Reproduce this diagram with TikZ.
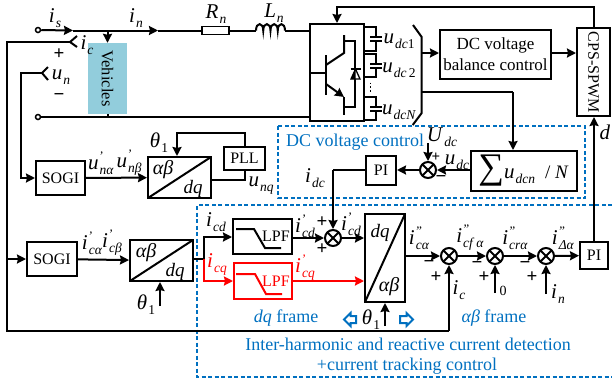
\documentclass[tikz,border=0pt]{standalone}
\usepackage{fontspec}
\setmainfont{Liberation Serif}
\usetikzlibrary{positioning,arrows.meta}
\definecolor{framecolor}{HTML}{0070C0}
\definecolor{vehcolor}{HTML}{92CDDC}
\newcommand{\qlab}[3]{{\fontsize{21}{22}\selectfont\textit{#1}}\rlap{\raisebox{9pt}{\fontsize{13}{14}\selectfont\textit{#3}}}\raisebox{-5pt}{\fontsize{13.5}{14}\selectfont\kern1pt\textit{#2}}}
\tikzset{
    wire/.style={line width=2pt},
    blk/.style={draw,line width=2pt,fill=white,inner sep=0pt,font=\fontsize{16}{18}\selectfont},
    xfrm/.style={blk,minimum width=63pt,minimum height=41pt,
        path picture={\draw[line width=2pt] (path picture bounding box.south west) -- (path picture bounding box.north east);}},
    sumnode/.style={draw,circle,line width=2pt,fill=white,minimum size=16pt,inner sep=0pt,
        path picture={
            \draw[line width=1.8pt] (path picture bounding box.south west) -- (path picture bounding box.north east);
            \draw[line width=1.8pt] (path picture bounding box.north west) -- (path picture bounding box.south east);}},
    lbl/.style={inner sep=0pt,font=\fontsize{19}{21}\selectfont},
    txt/.style={inner sep=0pt,font=\fontsize{18}{20}\selectfont},
    sgn/.style={inner sep=0pt,font=\fontsize{19}{19}\selectfont\bfseries},
    term/.style={draw,circle,line width=1.5pt,fill=white,minimum size=5pt,inner sep=0pt},
    framebox/.style={framecolor,line width=1.5pt,dash pattern=on 4pt off 2.5pt},
    frametxt/.style={txt,text=framecolor},
    blockarr/.style={draw=framecolor,line width=2pt,fill=white,line join=miter}
}
\begin{document}
\begin{tikzpicture}[x=1pt,y=-1pt,>={Stealth[length=9pt,width=9pt,inset=1pt]}]
    \useasboundingbox (0,0) rectangle (612,383);

    % control frames
    \draw[framebox] (278,126) rectangle (585,198);
    \draw[framebox] (612,205) -- (197,205) -- (197,377) -- (612,377);
    \node[frametxt] (dctitle) at (355,142) {DC voltage control};
    \node[frametxt] (dqtitle) at (286,318) {\textit{dq} frame};
    \node[frametxt] (abtitle) at (494,318) {\textit{αβ} frame};
    \node[frametxt] (ihtitlea) at (408,344) {Inter-harmonic and reactive current detection};
    \node[frametxt] (ihtitleb) at (407,366) {+current tracking control};

    % grid side
    \node[term] (terma) at (38,30) {};
    \node[term] (termb) at (38,117) {};
    \node[draw,line width=1.6pt,fill=white,minimum width=27pt,minimum height=8pt,inner sep=0pt] (resistor) at (215.5,30.5) {};
    \coordinate (isarr) at (73,30.5);
    \coordinate (inarr) at (158,30.5);
    \coordinate (tapa) at (107.5,30.5);
    \coordinate (tapb) at (107.5,117);
    \coordinate (indl) at (256,30.5);
    \coordinate (indr) at (285,30.5);
    \node[fill=vehcolor,rotate=-90,minimum width=71pt,minimum height=39pt,inner sep=0pt,font=\fontsize{16.5}{18}\selectfont] (vehicles) at (107.5,78.5) {Vehicles};
    \draw[wire,->] (terma) -- (isarr);
    \draw[wire,->] (isarr) -- (inarr);
    \draw[wire] (inarr) -- (resistor);
    \draw[wire] (resistor) -- (indl);
    \draw[wire] (indl) .. controls (256,22) and (263.25,22) .. (263.25,30.5)
        .. controls (263.25,22) and (270.5,22) .. (270.5,30.5)
        .. controls (270.5,22) and (277.75,22) .. (277.75,30.5)
        .. controls (277.75,22) and (285,22) .. (indr);
    \draw[wire,->] (tapa) -- (vehicles.west);
    \draw[wire] (vehicles.east) -- (tapb);
    \node[lbl] (isl) at (55,18) {\qlab{i}{s}{}};
    \node[lbl] (inl) at (136,18) {\qlab{i}{n}{}};
    \node[lbl] (rnl) at (216,14) {\qlab{R}{n}{}};
    \node[lbl] (lnl) at (274,13) {\qlab{L}{n}{}};
    \node[lbl] (icl) at (87,45) {\qlab{i}{c}{}};
    \node[lbl] (unl) at (61,77) {\qlab{u}{n}{}};
    \node[sgn] (unp) at (59,54) {+};
    \node[sgn] (unm) at (59,97) {−};

    % converter
    \node[blk,minimum width=54pt,minimum height=97pt] (converter) at (337,72.5) {};
    \draw[wire] (indr) -- (converter.west |- indr);
    \draw[wire] (tapb) -- (converter.west |- tapb);
    \draw[wire] (termb) -- (tapb);
    \draw[wire] (converter.west |- 0,73) -- (326,73);
    \draw[wire] (326,55) -- (326,95);
    \draw[wire] (326,65) -- (344,53) -- (344,35);
    \draw[wire] (344,41) -- (355,41) -- (355,107) -- (344,107);
    \draw[wire,->] (326,84) -- (344,97);
    \draw[wire] (344,97) -- (344,115);
    \draw[line width=1.3pt,fill=white] (351,79) -- (360,79) -- (355.5,69) -- cycle;
    \fill (351,79) -- (355.5,79) -- (355.5,69) -- cycle;
    \draw[line width=1.5pt] (350.5,69) -- (360.5,69);

    % capacitors
    \draw[wire] (364,27) -- (376,27) -- (376,37);
    \draw[wire] (370,37) -- (382,37);
    \draw[wire] (370,41) -- (382,41);
    \draw[wire] (376,41) -- (376,51) -- (364,51);
    \draw[wire] (364,54) -- (376,54) -- (376,64);
    \draw[wire] (370,64) -- (382,64);
    \draw[wire] (370,68) -- (382,68);
    \draw[wire] (376,68) -- (376,77) -- (364,77);
    \draw[wire] (364,97) -- (376,97) -- (376,107);
    \draw[wire] (370,107) -- (382,107);
    \draw[wire] (370,110.5) -- (382,110.5);
    \draw[wire] (376,110.5) -- (376,120) -- (364,120);
    \draw[line width=1.7pt,dash pattern=on 1.7pt off 2pt] (370.5,82.5) -- (370.5,93);
    \node[lbl] (udca) at (399,41) {\qlab{u}{dc\textup{1}}{}};
    \node[lbl] (udcb) at (399,70) {\qlab{u}{dc\,\textup{2}}{}};
    \node[lbl] (udcc) at (399,112) {\qlab{u}{dcN}{}};

    % DC side
    \coordinate (bustop) at (421.7,37);
    \coordinate (busbot) at (421.7,113);
    \coordinate (busbal) at (421.7,53);
    \coordinate (bussum) at (421.7,92);
    \coordinate (busdrop) at (513,92);
    \draw[wire] (413,25) -- (bustop) -- (busbot) -- (412.7,125);
    \node[blk,font=\fontsize{17}{21}\selectfont,minimum width=111pt,minimum height=49pt,align=center] (balance) at (495.5,54.5) {DC voltage\\balance control};
    \node[blk,rotate=-90,minimum width=88pt,minimum height=33pt] (cps) at (593.5,72) {CPS-SPWM};
    \node[lbl,font=\fontsize{21}{22}\selectfont] (dl) at (605,132) {\textit{d}};
    \node[blk,font=\fontsize{19}{20}\selectfont,minimum width=106pt,minimum height=40pt] (sumdcn) at (523.5,171) {{\fontsize{36}{36}\selectfont∑}\qlab{u}{dcn}{}\; / \textit{N}};
    \node[sumnode] (sumdc) at (428,170) {};
    \node[blk,minimum width=30pt,minimum height=29pt] (pidc) at (381,170) {PI};
    \coordinate (udcin) at (428,143);
    \coordinate (cpstop) at (594,7);
    \coordinate (convtop) at (337,7);
    \draw[wire,->] (busbal) -- (balance.west |- busbal);
    \draw[wire,->] (balance.east |- busbal) -- (cps.south |- busbal);
    \draw[wire] (bussum) -- (busdrop);
    \draw[wire,->] (busdrop) -- (sumdcn.north -| busdrop);
    \draw[wire,->] (sumdcn.west |- sumdc) -- (sumdc);
    \draw[wire,->] (sumdc) -- (pidc);
    \draw[wire,->] (udcin) -- (sumdc);
    \draw[wire,->] (cpstop |- cps.west) -- (cpstop) -- (convtop) -- (converter.north -| convtop);
    \node[lbl] (Udcl) at (442,137) {\qlab{U}{dc}{}};
    \node[lbl] (udcl) at (457,162) {\qlab{u}{dc}{}};
    \node[lbl] (idcl) at (315,178) {\qlab{i}{dc}{}};
    \node[sgn,font=\fontsize{15}{15}\selectfont\bfseries] (dcp) at (436,157) {+};
    \node[sgn] (dcm) at (441,179) {−};

    % voltage detection
    \node[blk,minimum width=49pt,minimum height=34pt] (sogiun) at (60.5,178) {SOGI};
    \node[xfrm] (abdqun) at (179.5,177.5) {};
    \node[blk,minimum width=41pt,minimum height=23pt] (pll) at (244.5,158.5) {PLL};
    \node[lbl,font=\fontsize{20}{21}\selectfont] (abuna) at (163,170) {\textit{αβ}};
    \node[lbl] (abunb) at (193,189) {\textit{dq}};
    \coordinate (chun) at (42,73);
    \coordinate (unleft) at (20.5,73);
    \coordinate (pllin) at (244.5,180);
    \coordinate (plltop) at (244.5,133);
    \coordinate (thetain) at (177,133);
    \draw[wire] (48,67) -- (chun) -- (48,80);
    \draw[wire,->] (chun) -- (unleft) -- (unleft |- sogiun) -- (sogiun);
    \draw[wire,->] (sogiun) -- (abdqun);
    \draw[wire] (abdqun.east |- pllin) -- (pllin) -- (pll);
    \draw[wire,->] (pll.north) -- (plltop) -- (thetain) -- (abdqun.north -| thetain);
    \node[lbl] (unal) at (101,163) {\qlab{u}{nα}{'}};
    \node[lbl] (unbl) at (129,163) {\qlab{u}{nβ}{'}};
    \node[lbl] (unql) at (261,186) {\qlab{u}{nq}{}};
    \node[lbl] (thetaal) at (159,143) {\qlab{θ}{\textup{1}}{}};

    % current detection
    \node[blk,minimum width=50pt,minimum height=34pt] (sogiic) at (52,259) {SOGI};
    \node[xfrm] (abdqic) at (161.5,260.5) {};
    \node[lbl,font=\fontsize{20}{21}\selectfont] (abica) at (146,253) {\textit{αβ}};
    \node[lbl] (abicb) at (175,272) {\textit{dq}};
    \coordinate (chic) at (70,42);
    \coordinate (icleft) at (7,42);
    \coordinate (icdown) at (7,331);
    \coordinate (icright) at (449,331);
    \coordinate (thetab) at (160,306);
    \draw[wire] (77,36) -- (chic) -- (77,47);
    \draw[wire] (chic) -- (icleft) -- (icdown) -- (icright);
    \draw[wire,->] (icleft |- sogiic) -- (sogiic);
    \draw[wire,->] (sogiic) -- (abdqic);
    \draw[wire,->] (thetab) -- (abdqic.south -| thetab);
    \node[lbl] (icpa) at (92,243) {\qlab{i}{cα}{'}};
    \node[lbl] (icpb) at (112,243) {\qlab{i}{cβ}{'}};
    \node[lbl] (thetabl) at (146,305) {\qlab{θ}{\textup{1}}{}};

    % dq filters
    \node[blk,minimum width=59pt,minimum height=35pt] (lpfd) at (262.5,236.5) {};
    \node[blk,draw=red,minimum width=58pt,minimum height=36pt] (lpfq) at (263,281) {};
    \node[blk,font=\fontsize{16}{18}\selectfont] (lpfdl) [draw=none,fill=none] at (276,236) {LPF};
    \node[blk,font=\fontsize{16}{18}\selectfont,text=red] (lpfql) [draw=none,fill=none] at (276,281) {LPF};
    \draw[wire] (236,229) -- (254,229) -- (265,248) -- (281,248);
    \draw[wire,red] (236,274) -- (255,274) -- (266,294) -- (282,294);
    \node[sumnode] (sumcd) at (333,238) {};
    \node[blk,minimum width=40pt,minimum height=88pt,
        path picture={\draw[line width=2pt] (path picture bounding box.south west) -- (path picture bounding box.north east);}] (dqab) at (385,258) {};
    \node[lbl] (dqaba) at (380,233) {\textit{dq}};
    \node[lbl,font=\fontsize{20}{21}\selectfont] (dqabb) at (389,287) {\textit{αβ}};
    \coordinate (split) at (204,259);
    \coordinate (splitd) at (204,237);
    \coordinate (splitq) at (204,281);
    \coordinate (pidown) at (333,170);
    \coordinate (thetac) at (385,326);
    \draw[wire] (abdqic.east |- split) -- (split);
    \draw[wire,->] (split) -- (splitd) -- (lpfd.west |- splitd);
    \draw[wire,red,->] (split) -- (splitq) -- (lpfq.west |- splitq);
    \draw[wire] (pidc) -- (pidown);
    \draw[wire,->] (pidown) -- (sumcd);
    \draw[wire,->] (lpfd.east |- sumcd) -- (sumcd);
    \draw[wire,->] (sumcd) -- (dqab.west |- sumcd);
    \draw[wire,red,->] (lpfq) -- (dqab.west |- lpfq);
    \draw[wire,->] (thetac) -- (dqab.south -| thetac);
    \node[lbl] (icdl) at (216,222) {\qlab{i}{cd}{}};
    \node[lbl,text=red] (icql) at (217,264) {\qlab{i}{cq}{}};
    \node[lbl] (icdfl) at (305,226) {\qlab{i}{cd}{'}};
    \node[lbl,text=red] (icqfl) at (305,268) {\qlab{i}{cq}{'}};
    \node[lbl] (icdol) at (351,224) {\qlab{i}{cd}{'}};
    \node[sgn] (cdp) at (322,222) {+};
    \node[sgn] (cdq) at (322,249) {+};
    \node[lbl] (thetacl) at (371,320) {\qlab{θ}{\textup{1}}{}};
    \draw[blockarr] (344,319.5) -- (350.5,313) -- (350.5,316) -- (356,316) -- (356,323) -- (350.5,323) -- (350.5,326) -- cycle;
    \draw[blockarr] (413,319.5) -- (406.5,313) -- (406.5,316) -- (400,316) -- (400,323) -- (406.5,323) -- (406.5,326) -- cycle;

    % current tracking
    \node[sumnode] (sumca) at (449,256) {};
    \node[sumnode] (sumcf) at (495,256) {};
    \node[sumnode] (sumcr) at (546,256) {};
    \node[blk,minimum width=28pt,minimum height=27pt] (pic) at (594,255.5) {PI};
    \coordinate (zeroin) at (495,293);
    \coordinate (inin) at (546,294);
    \draw[wire,->] (dqab.east |- sumca) -- (sumca);
    \draw[wire,->] (sumca) -- (sumcf);
    \draw[wire,->] (sumcf) -- (sumcr);
    \draw[wire,->] (sumcr) -- (pic);
    \draw[wire,->] (icright) -- (sumca);
    \draw[wire,->] (zeroin) -- (sumcf);
    \draw[wire,->] (inin) -- (sumcr);
    \draw[wire,->] (pic.north) -- (pic.north |- cps.east);
    \node[lbl] (ical) at (419,238) {\qlab{i}{cα}{"}};
    \node[lbl] (icfl) at (470,238) {\qlab{i}{cf α}{"}};
    \node[lbl] (icrl) at (515,238) {\qlab{i}{crα}{"}};
    \node[lbl] (idal) at (563,238) {\qlab{i}{Δα}{"}};
    \node[lbl] (icfb) at (459,290) {\qlab{i}{c}{}};
    \node[lbl,font=\fontsize{14}{16}\selectfont] (zerol) at (503,291) {0};
    \node[lbl] (inb) at (558,294) {\qlab{i}{n}{}};
    \node[sgn] (cam) at (429,264) {−};
    \node[sgn] (cap) at (436,277) {+};
    \node[sgn] (cfm) at (477,265) {−};
    \node[sgn] (cfp) at (484,277) {+};
    \node[sgn] (crm) at (525,265) {−};
    \node[sgn] (crp) at (532,277) {+};
\end{tikzpicture}
\end{document}
